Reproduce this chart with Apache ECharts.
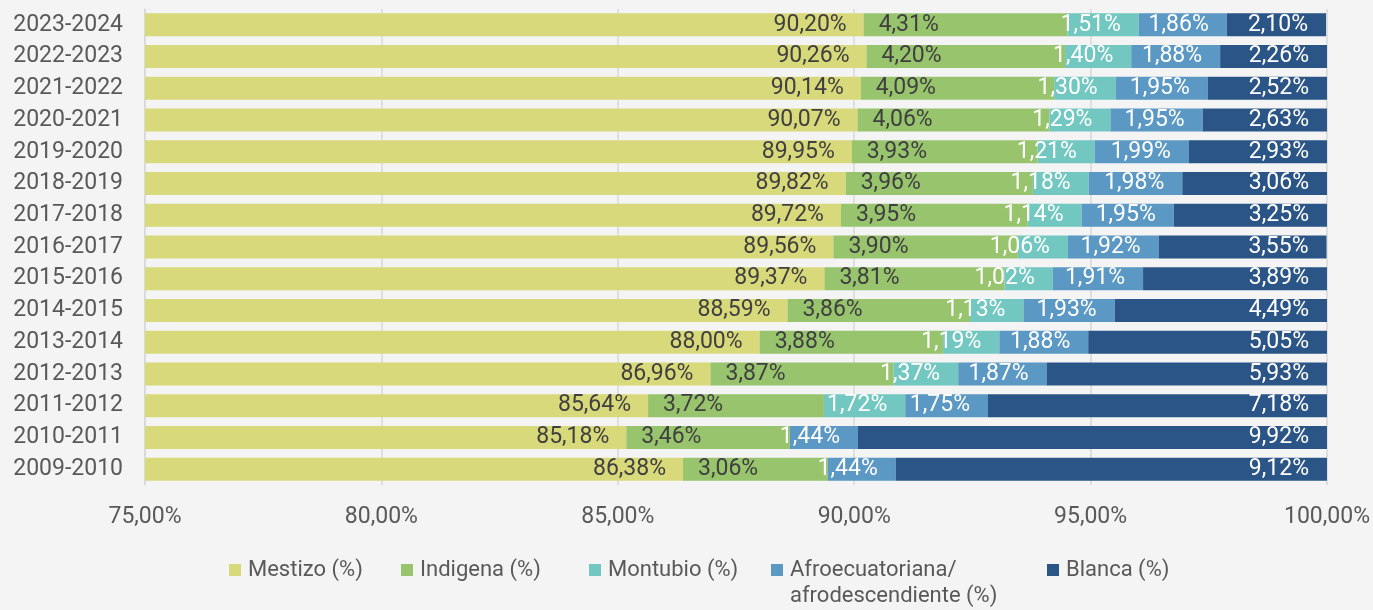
<!DOCTYPE html>
<html><head><meta charset="utf-8">
<script src="https://cdn.jsdelivr.net/npm/echarts@6/dist/echarts.min.js"></script>
<style>html,body{margin:0;padding:0;background:#f4f4f4}#c{width:1373px;height:610px}</style>
</head><body><div id="c"></div>
<script>
const categories = ['2009-2010','2010-2011','2011-2012','2012-2013','2013-2014','2014-2015','2015-2016','2016-2017','2017-2018','2018-2019','2019-2020','2020-2021','2021-2022','2022-2023','2023-2024'];
const mestizo   = [86.38,85.18,85.64,86.96,88.00,88.59,89.37,89.56,89.72,89.82,89.95,90.07,90.14,90.26,90.20];
const indigena  = [3.06,3.46,3.72,3.87,3.88,3.86,3.81,3.90,3.95,3.96,3.93,4.06,4.09,4.20,4.31];
const montubio  = [0,0,1.72,1.37,1.19,1.13,1.02,1.06,1.14,1.18,1.21,1.29,1.30,1.40,1.51];
const afro      = [1.44,1.44,1.75,1.87,1.88,1.93,1.91,1.92,1.95,1.98,1.99,1.95,1.95,1.88,1.86];
const blanca    = [9.12,9.92,7.18,5.93,5.05,4.49,3.89,3.55,3.25,3.06,2.93,2.63,2.52,2.26,2.10];
const seriesNames = ['Mestizo (%)','Indigena (%)','Montubio (%)','Afroecuatoriana/\nafrodescendiente (%)','Blanca (%)'];
const xTicks = {min:75, max:100, interval:5};

const FONT = 'Roboto';
const FS = 23;
const fmt = v => v.toFixed(2).replace('.', ',') + '%';
const colors = ['#d8d97b','#97c46d','#72c8c1','#5b98c4','#2b5586'];
const labelColors = ['#404040','#404040','#ffffff','#ffffff','#ffffff'];
const positions = ['insideRight','insideLeft','insideRight','insideRight','insideRight'];
const dists = [17,15,18,18,18];
const vals = [mestizo,indigena,montubio,afro,blanca];

const series = vals.map((d,i)=>({
  name: seriesNames[i], type:'bar', stack:'total', data:d, barWidth:23,
  itemStyle:{color:colors[i]},
  label:{show:true, position:positions[i], distance:dists[i], color:labelColors[i],
    fontFamily:FONT, fontSize:FS,
    formatter:p=> p.value ? fmt(p.value) : ''},
  emphasis:{disabled:true}
}));

const legendLefts = [229,401,589,771,1047];
const legends = seriesNames.map((n,i)=>({
  data:[n], left:legendLefts[i], top:556, padding:0, itemWidth:12, itemHeight:12, itemGap:0,
  icon:'rect', selectedMode:false,
  formatter: name => name.split('\n')[0],
  textStyle:{fontFamily:FONT, fontSize:22, color:'#595959', lineHeight:28, padding:[0,0,0,2]}
}));
const afroSecondLine = seriesNames[3].split('\n')[1];

const chart = echarts.init(document.getElementById('c'));
chart.setOption({
  backgroundColor:'#f4f4f4',
  animation:false,
  grid:{left:145, right:45, top:9, bottom:125},
  xAxis:{type:'value', min:xTicks.min, max:xTicks.max, interval:xTicks.interval,
    axisLine:{show:false}, axisTick:{show:false},
    splitLine:{show:true, lineStyle:{color:'#d9d9d9', width:1.5}},
    axisLabel:{fontFamily:FONT, fontSize:FS, color:'#595959', margin:21, formatter:v=>v.toFixed(2).replace('.',',')+'%'}},
  yAxis:{type:'category', data:categories,
    axisLine:{show:true, lineStyle:{color:'#d9d9d9', width:1.5}}, axisTick:{show:false},
    axisLabel:{fontFamily:FONT, fontSize:FS, color:'#595959', margin:22}},
  legend:legends,
  graphic:[{type:'text', left:790, top:585,
    style:{text:afroSecondLine, fontFamily:FONT, fontSize:22, fill:'#595959'}}],
  series:series
});
</script></body></html>
